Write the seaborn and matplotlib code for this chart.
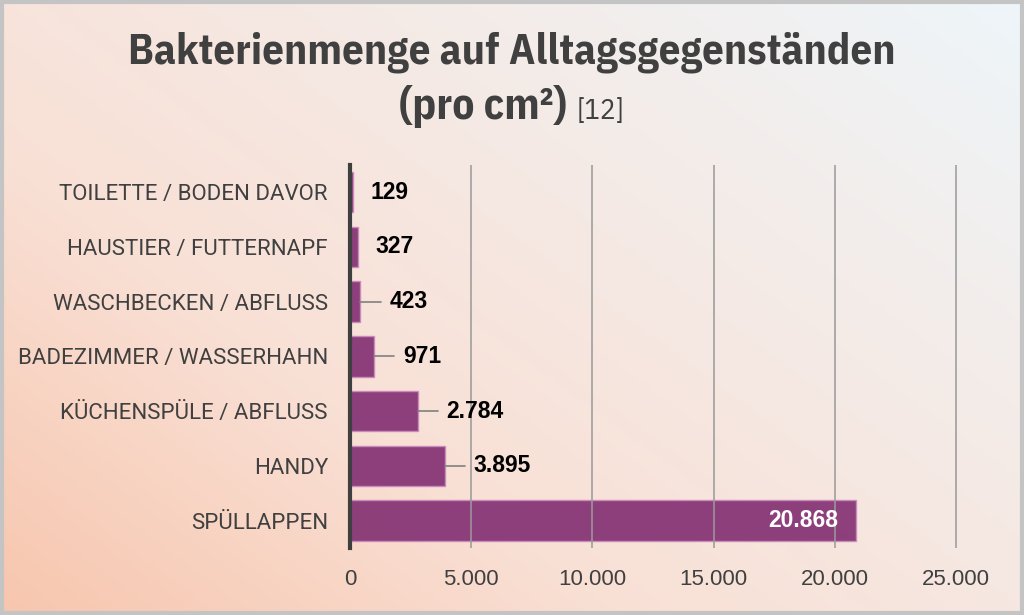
import numpy as np
import pandas as pd
import matplotlib
matplotlib.use("Agg")
import matplotlib.pyplot as plt
from matplotlib.colors import LinearSegmentedColormap
from matplotlib.patches import Rectangle
import seaborn as sns

# --- Daten ---
kategorien = ["TOILETTE / BODEN DAVOR", "HAUSTIER / FUTTERNAPF", "WASCHBECKEN / ABFLUSS",
              "BADEZIMMER / WASSERHAHN", "KÜCHENSPÜLE / ABFLUSS", "HANDY", "SPÜLLAPPEN"]
werte = [129, 327, 423, 971, 2784, 3895, 20868]
x_ticks = [0, 5000, 10000, 15000, 20000, 25000]


def de_zahl(v):
    return f"{v:,.0f}".replace(",", ".")


df = pd.DataFrame({"gegenstand": kategorien, "menge": werte})

sns.set_theme(style="white")
TITEL_FONT = ["IBM Plex Sans Condensed", "DejaVu Sans"]
LABEL_FONT = ["Roboto", "DejaVu Sans"]
ZAHL_FONT = ["Liberation Sans", "DejaVu Sans"]
plt.rcParams["font.family"] = LABEL_FONT

fig = plt.figure(figsize=(10.24, 6.15), dpi=100)

# Hintergrund-Verlauf (unten links pfirsich -> oben rechts hellblau)
bg = fig.add_axes([0, 0, 1, 1], zorder=-10)
xx, yy = np.meshgrid(np.linspace(0, 1, 300), np.linspace(0, 1, 200))
grad = xx * 0.55 + yy * 0.45
cmap = LinearSegmentedColormap.from_list("bg", ["#f7c6ae", "#f9e0d5", "#f4ebe7", "#eef5f9"])
bg.imshow(grad, cmap=cmap, origin="lower", extent=[0, 1, 0, 1], aspect="auto", vmin=0, vmax=1)
bg.set_axis_off()
fig.patches.append(Rectangle((0.0015, 0.0025), 0.997, 0.995, transform=fig.transFigure,
                             fill=False, edgecolor="#c4c4c4", linewidth=3))

ax = fig.add_axes([0.342, 0.109, 0.615, 0.623])
ax.set_facecolor("none")
sns.barplot(data=df, x="menge", y="gegenstand", orient="h", ax=ax, color="#8a3a78",
            width=0.74, edgecolor="#c98bbd", linewidth=1, alpha=0.97, saturation=1)

ax.set_xlim(0, 26000)
ax.set_ylim(6.5, -0.5)
ax.set_xticks(x_ticks)
ax.set_xticklabels([de_zahl(v) for v in x_ticks], fontsize=16, color="#404040", family=ZAHL_FONT)
ax.tick_params(axis="x", length=0, pad=15)
ax.tick_params(axis="y", length=0, pad=16, labelsize=16, labelcolor="#404040")
ax.set_xlabel("")
ax.set_ylabel("")
for s in ["top", "right", "bottom"]:
    ax.spines[s].set_visible(False)
ax.spines["left"].set_color("#3f3f3f")
ax.spines["left"].set_linewidth(3)
ax.spines["left"].set_zorder(5)
for xv in x_ticks[1:]:
    ax.axvline(xv, color="#9a9a9a", linewidth=1.4, alpha=0.8, zorder=3)

# Werte-Beschriftungen mit kurzen Führungslinien
for i, v in enumerate(werte):
    if v > 15000:
        ax.text(v - 700, i, de_zahl(v), ha="right", va="center", fontsize=16.5,
                fontweight="bold", color="white", family=ZAHL_FONT, zorder=6)
        continue
    off = 700 if v < 400 else 1200
    if v > 400:
        ax.plot([v, v + 850], [i, i], color="#808080", linewidth=1.2, zorder=4)
    ax.text(v + off, i, de_zahl(v), ha="left", va="center", fontsize=16.5,
            fontweight="bold", color="black", family=ZAHL_FONT, zorder=6)

# Titel
fig.text(0.5, 0.896, "Bakterienmenge auf Alltagsgegenständen", ha="center", va="baseline",
         fontsize=31, fontweight="bold", color="#404040", family=TITEL_FONT, fontstretch="condensed")
t1 = fig.text(0.5, 0.806, "(pro cm²)", ha="left", va="baseline",
              fontsize=31.5, fontweight="bold", color="#404040", family=TITEL_FONT, fontstretch="condensed")
t2 = fig.text(0.5, 0.806, "[12]", ha="left", va="baseline",
              fontsize=21, color="#404040", family=TITEL_FONT, fontstretch="condensed")
fig.canvas.draw()
w1 = t1.get_window_extent().width / fig.bbox.width
w2 = t2.get_window_extent().width / fig.bbox.width
gap = 0.01
x0 = 0.5 - (w1 + gap + w2) / 2
t1.set_x(x0)
t2.set_x(x0 + w1 + gap)

fig.savefig("out.png", dpi=100)
